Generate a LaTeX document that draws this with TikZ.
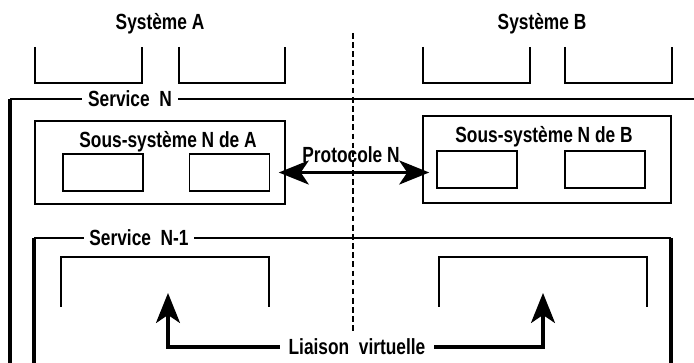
\documentclass[tikz,border=0pt]{standalone}
\usepackage{fontspec}
\setmainfont[FakeStretch=0.79]{Liberation Sans}
\usetikzlibrary{arrows.meta}
\tikzset{>={Stealth[length=7.5mm, width=6mm, inset=2mm]}}

\begin{document}
\begin{tikzpicture}[
  lbl/.style={font=\bfseries\fontsize{15.6}{18}\selectfont, inner sep=1pt},
  linelbl/.style={lbl, fill=white, inner sep=4pt},
  thinline/.style={line width=1.1pt},
  thickline/.style={line width=2.2pt},
  subbox/.style={rectangle, draw, line width=1.1pt, inner sep=0pt},
  innerbox/.style={rectangle, draw, line width=1.1pt, inner sep=0pt,
    minimum width=2cm, minimum height=0.925cm},
  sepline/.style={line width=0.9pt, dash pattern=on 4pt off 2.5pt},
  bigarrow/.style={->, line width=2.2pt}
]

% ---------- Canvas ----------
\fill[white] (0,0) rectangle (17.35,9.075);
\useasboundingbox (0,0) rectangle (17.35,9.075);

% ---------- Systems ----------
\node[lbl] (sysA) at (4.0,8.475) {Système A};
\node[lbl] (sysB) at (13.55,8.475) {Système B};

\foreach \xa/\xb in {0.875/3.55, 4.475/7.125, 10.575/13.25, 14.125/16.8}
  \draw[thinline] (\xa,7.9) |- (\xb,7.0) -- (\xb,7.9);

% ---------- Service N ----------
\draw[thickline] (0.25,0) -- (0.25,6.6);
\draw[thinline] (0.25,6.6) -- (17.35,6.6);
\node[linelbl] (servN) at (3.25,6.6) {Service\ \ N};

% ---------- Sub-systems N ----------
\node[subbox, minimum width=6.25cm, minimum height=2.075cm] (subA) at (4.0,5.0125) {};
\node[lbl] (subAtitle) at (4.2,5.525) {Sous-système N de A};
\node[innerbox] (inA1) at (2.575,4.7625) {};
\node[innerbox] (inA2) at (5.7375,4.7625) {};

\node[subbox, minimum width=6.2cm, minimum height=2.175cm] (subB) at (13.675,5.0875) {};
\node[lbl] (subBtitle) at (13.6,5.65) {Sous-système N de B};
\node[innerbox] (inB1) at (11.925,4.8375) {};
\node[innerbox] (inB2) at (15.125,4.8375) {};

% ---------- Separation A / B ----------
\draw[sepline] (8.825,8.25) -- (8.825,0.775);

% ---------- Protocol N ----------
\node[lbl] (proto) at (8.775,5.2) {Protocole N};
\draw[bigarrow, <->, shorten <=-0.175cm, shorten >=-0.175cm]
  (subA.east |- inA2.east) -- (subB.west |- inA2.east);

% ---------- Service N-1 ----------
\draw[thickline] (0.85,0) -- (0.85,3.125);
\draw[thinline] (0.85,3.125) -- (16.775,3.125);
\draw[thickline] (16.775,3.125) -- (16.775,0);
\node[linelbl] (servN1) at (3.475,3.125) {Service\ \ N-1};

\draw[thinline] (1.525,1.4) |- (6.725,2.65) -- (6.725,1.4);
\draw[thinline] (10.975,1.4) |- (16.175,2.65) -- (16.175,1.4);

% ---------- Virtual link ----------
\coordinate (tipA) at (4.2,1.75);
\coordinate (tipB) at (13.575,1.75);
\node[linelbl, inner sep=6pt] (liaison) at (8.925,0.4) {Liaison\ \ virtuelle};
\draw[bigarrow] (liaison.west) -| (tipA);
\draw[bigarrow] (liaison.east) -| (tipB);

\end{tikzpicture}
\end{document}
